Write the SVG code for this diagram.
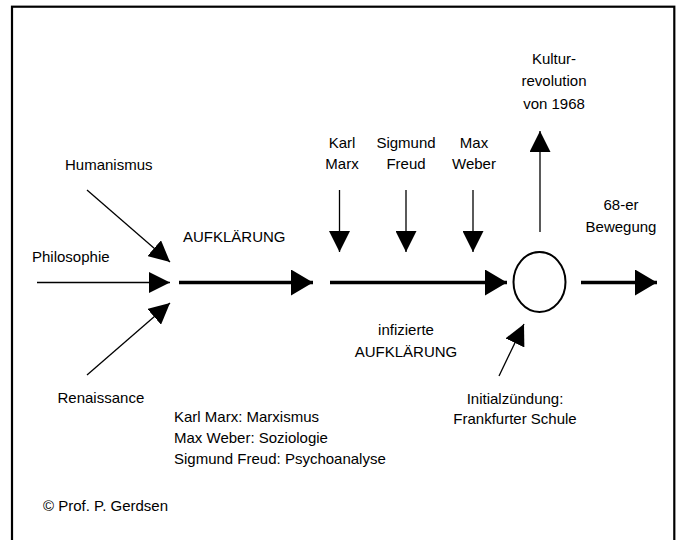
<svg xmlns="http://www.w3.org/2000/svg" width="678" height="540" viewBox="0 0 678 540">
<style>
text{font-family:"Liberation Sans",Arial,sans-serif;font-size:15px;fill:#000}
.c{text-anchor:middle}
.thin{stroke:#000;stroke-width:1.3;fill:none;marker-end:url(#ah)}
.thick{stroke:#000;stroke-width:3.5;fill:none;marker-end:url(#ahb)}
</style>
<defs>
<marker id="ah" viewBox="0 0 21 21" refX="21" refY="10.5" markerWidth="21" markerHeight="21" markerUnits="userSpaceOnUse" orient="auto"><path d="M0,0 L21,10.5 L0,21 Z" fill="#000"/></marker>
<marker id="ahb" viewBox="0 0 22 26" refX="22" refY="13" markerWidth="22" markerHeight="26" markerUnits="userSpaceOnUse" orient="auto"><path d="M0,0 L22,13 L0,26 Z" fill="#000"/></marker>
</defs>
<rect x="12" y="6.7" width="662.3" height="545" fill="#fff" stroke="#000" stroke-width="2.2"/>
<g id="connectors">
<line class="thin" x1="87" y1="190" x2="170" y2="262"/>
<line class="thin" x1="37" y1="282.5" x2="170" y2="282.5"/>
<line class="thin" x1="87" y1="375" x2="170" y2="303"/>
<line class="thick" x1="179" y1="282.5" x2="313" y2="282.5"/>
<line class="thick" x1="330" y1="282.5" x2="507" y2="282.5"/>
<line class="thick" x1="581" y1="282.5" x2="657" y2="282.5"/>
<line class="thin" x1="339.5" y1="190" x2="339.5" y2="252"/>
<line class="thin" x1="406" y1="190" x2="406" y2="252"/>
<line class="thin" x1="473" y1="190" x2="473" y2="252"/>
<line class="thin" x1="540" y1="232" x2="540" y2="131"/>
<line class="thin" x1="499" y1="376" x2="524" y2="324"/>
</g>
<g id="humanismus"><text x="65" y="170">Humanismus</text></g>
<g id="philosophie"><text x="32" y="262">Philosophie</text></g>
<g id="renaissance"><text x="57.5" y="403">Renaissance</text></g>
<g id="aufklaerung"><text x="183" y="242">AUFKLÄRUNG</text></g>
<g id="karl-marx"><text class="c" x="342" y="148">Karl</text><text class="c" x="342" y="169">Marx</text></g>
<g id="sigmund-freud"><text class="c" x="406" y="148">Sigmund</text><text class="c" x="406" y="169">Freud</text></g>
<g id="max-weber"><text class="c" x="474" y="148">Max</text><text class="c" x="474" y="169">Weber</text></g>
<g id="kulturrevolution"><text class="c" x="554" y="64">Kultur-</text><text class="c" x="554" y="86">revolution</text><text class="c" x="554" y="109">von 1968</text></g>
<g id="ereignis"><ellipse cx="539.5" cy="282" rx="26" ry="30" fill="#fff" stroke="#000" stroke-width="2"/></g>
<g id="bewegung"><text class="c" x="621" y="210">68-er</text><text class="c" x="621" y="232">Bewegung</text></g>
<g id="infizierte"><text class="c" x="406" y="335">infizierte</text><text class="c" x="406" y="357">AUFKLÄRUNG</text></g>
<g id="frankfurter-schule"><text class="c" x="515" y="404">Initialzündung:</text><text class="c" x="515" y="424">Frankfurter Schule</text></g>
<g id="legende"><text x="174" y="422">Karl Marx: Marxismus</text><text x="174" y="443">Max Weber: Soziologie</text><text x="174" y="464">Sigmund Freud: Psychoanalyse</text></g>
<g id="copyright"><text x="43" y="511">© Prof. P. Gerdsen</text></g>
</svg>
